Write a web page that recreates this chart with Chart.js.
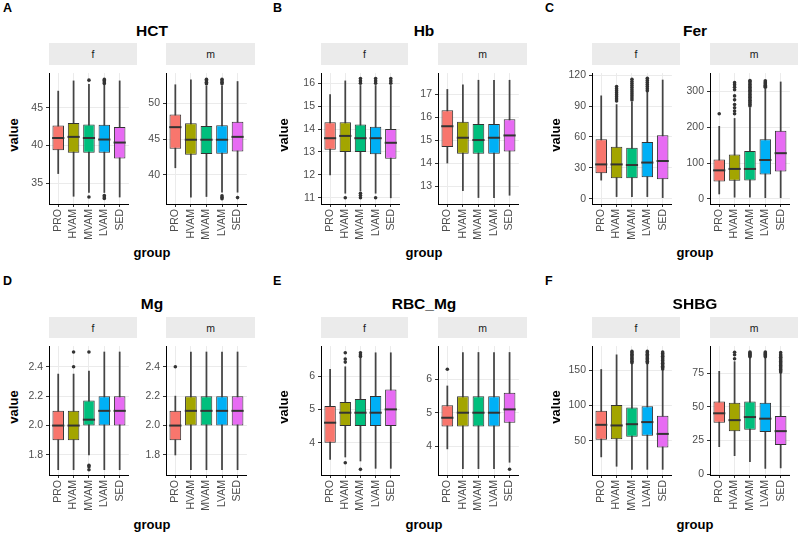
<!DOCTYPE html>
<html>
<head>
<meta charset="utf-8">
<script src="https://cdn.jsdelivr.net/npm/chart.js@4.4.1/dist/chart.umd.min.js"></script>
<style>
  body { margin: 0; background: #fff; width: 800px; height: 533px; position: relative; overflow: hidden;
         font-family: "Liberation Sans", Arial, sans-serif; }
  .t { position: absolute; white-space: nowrap; line-height: 1; transform: translate(-50%, -50%); color: #000; }
  .letter { position: absolute; font-weight: bold; font-size: 12.5px; line-height: 1; }
  .ttl { font-weight: bold; font-size: 15.5px; }
  .ax { font-weight: bold; font-size: 13px; }
  .strip { position: absolute; background: #EBEBEB; font-size: 10.5px; color: #1A1A1A;
           display: flex; align-items: center; justify-content: center; }
  canvas { position: absolute; }
</style>
</head>
<body>
<script>
"use strict"

// groups and colours
const groups = ['PRO', 'HVAM', 'MVAM', 'LVAM', 'SED'];
const fills = ['#F8766D', '#A3A500', '#00BF7D', '#00B0F6', '#E76BF3'];

// each row: [lower whisker, Q1, median, Q3, upper whisker]
const HCT_f = [[36.3, 39.4, 41.0, 42.65, 47.2], [33.3, 39.05, 41.15, 43.0, 48.55], [33.8, 39.05, 41.0, 42.8, 48.1], [33.8, 39.05, 40.8, 42.75, 48.1], [33.2, 38.3, 40.4, 42.45, 48.55]];
const HCT_f_out = [[], [], [48.65, 33.2], [48.2, 48.4, 48.6, 48.75, 33.0, 33.2, 33.4], []];
const HCT_f_range = [32.28, 49.58];
const HCT_f_ticks = ['35', '40', '45'];

const HCT_m = [[41.0, 43.65, 46.65, 48.4, 52.55], [36.9, 42.8, 44.9, 47.2, 53.25], [37.0, 42.9, 44.9, 46.8, 52.4], [37.6, 42.95, 44.9, 46.9, 52.4], [37.6, 43.25, 45.3, 47.4, 53.0]];
const HCT_m_out = [[], [], [52.7, 52.9, 53.1, 53.3], [52.7, 52.9, 53.1, 53.3, 36.7, 36.9, 37.1], [36.85]];
const HCT_m_range = [35.96, 54.17];
const HCT_m_ticks = ['40', '45', '50'];

const Hb_f = [[12.0, 13.1, 13.6, 14.3, 15.5], [11.2, 13.0, 13.7, 14.3, 16.1], [11.3, 13.0, 13.6, 14.2, 15.9], [11.2, 12.9, 13.6, 14.1, 15.9], [11.0, 12.7, 13.4, 14.0, 15.9]];
const Hb_f_out = [[], [11.0], [16.0, 16.1, 16.2, 11.0, 11.1, 11.2], [16.0, 16.1, 16.2, 11.0], [16.0, 16.1, 16.2]];
const Hb_f_range = [10.73, 16.44];
const Hb_f_ticks = ['11', '12', '13', '14', '15', '16'];

const Hb_m = [[14.0, 14.7, 15.6, 16.3, 17.2], [12.8, 14.4, 15.1, 15.8, 17.4], [12.5, 14.4, 15.0, 15.7, 17.6], [12.5, 14.4, 15.1, 15.7, 17.6], [12.6, 14.5, 15.2, 15.9, 17.6]];
const Hb_m_out = [[], [], [], [], []];
const Hb_m_range = [12.22, 17.91];
const Hb_m_ticks = ['13', '14', '15', '16', '17'];

const Fer_f = [[18, 24.7, 33.3, 57.7, 100], [2, 19.8, 33.3, 50.4, 91.5], [2, 19.8, 32.7, 49.5, 94], [2, 20.8, 35.1, 55, 104], [1, 18.9, 36.6, 61.7, 115.4]];
const Fer_f_out = [[], [95, 97, 99, 101, 103, 105, 107, 109], [96, 98, 100, 102, 104, 106, 108, 110, 112, 114, 116], [105, 107, 109, 111, 113, 115, 117], []];
const Fer_f_range = [-5.2, 122.1];
const Fer_f_ticks = ['0', '30', '60', '90', '120'];

const Fer_m = [[14, 49, 80, 110.5, 203], [5, 51, 84, 124.6, 225], [5, 52, 84, 134, 255], [3.5, 68.4, 109, 166.7, 308], [3.5, 77, 128, 190.4, 327]];
const Fer_m_out = [[238], [238, 246, 255, 264, 277, 288, 305, 312, 319, 325], [260, 264, 268, 272, 276, 280, 284, 288, 292, 296, 300, 304, 308, 312, 316, 320, 324, 328, 331], [312, 315, 318, 321, 324, 327, 330], []];
const Fer_m_range = [-14, 351.7];
const Fer_m_ticks = ['0', '100', '200', '300'];

const Mg_f = [[1.7, 1.9, 2.0, 2.1, 2.35], [1.7, 1.9, 2.0, 2.1, 2.35], [1.8, 2.0, 2.04, 2.17, 2.37], [1.7, 2.0, 2.1, 2.2, 2.5], [1.7, 2.0, 2.1, 2.2, 2.5]];
const Mg_f_out = [[], [2.4, 2.5], [2.5, 1.73, 1.72, 1.7], [], []];
const Mg_f_range = [1.664, 2.54];
const Mg_f_ticks = ['1.8', '2.0', '2.2', '2.4'];

const Mg_m = [[1.8, 1.9, 2.0, 2.1, 2.2], [1.7, 2.0, 2.1, 2.2, 2.5], [1.7, 2.0, 2.1, 2.2, 2.5], [1.7, 2.0, 2.1, 2.2, 2.5], [1.7, 2.0, 2.1, 2.2, 2.5]];
const Mg_m_out = [[2.4], [], [], [], []];
const Mg_m_range = [1.664, 2.54];
const Mg_m_ticks = ['1.8', '2.0', '2.2', '2.4'];

const RBC_f = [[3.5, 4.0, 4.6, 5.1, 6.2], [3.57, 4.5, 4.9, 5.22, 6.28], [3.45, 4.5, 4.9, 5.31, 6.54], [3.23, 4.5, 4.9, 5.4, 6.7], [3.23, 4.5, 5.0, 5.6, 6.7]];
const RBC_f_out = [[], [6.42, 6.51, 6.7, 3.4], [6.59, 6.63, 6.7, 3.2], [], []];
const RBC_f_range = [3.03, 6.9];
const RBC_f_ticks = ['4', '5', '6'];

const RBC_m = [[3.92, 4.59, 4.85, 5.22, 5.8], [3.33, 4.59, 5.0, 5.49, 6.8], [3.33, 4.59, 5.0, 5.49, 6.8], [3.33, 4.59, 5.0, 5.49, 6.8], [3.52, 4.7, 5.1, 5.6, 6.8]];
const RBC_m_out = [[6.3], [], [], [], [3.31]];
const RBC_m_range = [3.14, 6.99];
const RBC_m_ticks = ['4', '5', '6'];

const SHBG_f = [[27, 51.3, 72.6, 92.5, 151.3], [13.7, 52.2, 71.7, 100.9, 172.1], [9.3, 55.8, 73.5, 97.3, 159], [9.3, 57.1, 76.5, 99.1, 159], [9.3, 40.3, 59.7, 85.4, 151]];
const SHBG_f_out = [[], [], [161, 163, 165, 167, 169, 171, 173, 175, 177], [161, 163, 165, 167, 169, 171, 173, 175, 177], [152, 154, 156, 158, 160, 162, 164, 166, 168, 170, 172, 174, 176]];
const SHBG_f_range = [1.3, 184.5];
const SHBG_f_ticks = ['50', '100', '150'];

const SHBG_m = [[20.4, 38.3, 45.3, 54.1, 76.6], [13.7, 32.0, 40.2, 53.2, 83.8], [9.3, 33.0, 42.5, 54.1, 86.6], [4.2, 31.3, 41.3, 53.2, 86.6], [4.6, 21.6, 32.0, 43.2, 75.0]];
const SHBG_m_out = [[], [86, 89, 90.8], [87.5, 88.2, 88.9, 89.6, 90.3, 91], [87.5, 88.2, 88.9, 89.6, 90.3, 91], [76, 77, 78, 79, 80, 81, 82, 83, 84, 85, 86, 87, 88, 89, 90.5]];
const SHBG_m_range = [-0.7, 95.4];
const SHBG_m_ticks = ['0', '25', '50', '75'];


// page layout (pixels)
const cols = [
    { f: [49, 137], m: [166, 255], letterX: 3, valueX: 13 },
    { f: [321, 408], m: [438, 527], letterX: 273, valueX: 283 },
    { f: [592, 680], m: [710, 798], letterX: 545, valueX: 555 }
];
const rows = [
    { stripTop: 43, top: 65, bottom: 204, letterY: 2, titleY: 31, groupY: 252 },
    { stripTop: 317, top: 338, bottom: 475, letterY: 275, titleY: 304, groupY: 524 }
];

const panels = [
    { letter: 'A', title: 'HCT', col: 0, row: 0, f: [HCT_f, HCT_f_out, HCT_f_range, HCT_f_ticks], m: [HCT_m, HCT_m_out, HCT_m_range, HCT_m_ticks] },
    { letter: 'B', title: 'Hb', col: 1, row: 0, f: [Hb_f, Hb_f_out, Hb_f_range, Hb_f_ticks], m: [Hb_m, Hb_m_out, Hb_m_range, Hb_m_ticks] },
    { letter: 'C', title: 'Fer', col: 2, row: 0, f: [Fer_f, Fer_f_out, Fer_f_range, Fer_f_ticks], m: [Fer_m, Fer_m_out, Fer_m_range, Fer_m_ticks] },
    { letter: 'D', title: 'Mg', col: 0, row: 1, f: [Mg_f, Mg_f_out, Mg_f_range, Mg_f_ticks], m: [Mg_m, Mg_m_out, Mg_m_range, Mg_m_ticks] },
    { letter: 'E', title: 'RBC_Mg', col: 1, row: 1, f: [RBC_f, RBC_f_out, RBC_f_range, RBC_f_ticks], m: [RBC_m, RBC_m_out, RBC_m_range, RBC_m_ticks] },
    { letter: 'F', title: 'SHBG', col: 2, row: 1, f: [SHBG_f, SHBG_f_out, SHBG_f_range, SHBG_f_ticks], m: [SHBG_m, SHBG_m_out, SHBG_m_range, SHBG_m_ticks] }
];

const AXW = 45;   // room left of the plot for y ticks
const AXH = 45;   // room under the plot for x ticks
const tickFont = { family: 'Liberation Sans', size: 10.5 };


function addText(text, x, y, cls, rotate) {
    const d = document.createElement('div');
    d.className = 't ' + cls;
    d.textContent = text;
    d.style.left = x + 'px';
    d.style.top = y + 'px';
    if (rotate) d.style.transform = 'translate(-50%, -50%) rotate(-90deg)';
    document.body.appendChild(d);
}

function addStrip(text, x0, x1, y0, y1) {
    const d = document.createElement('div');
    d.className = 'strip';
    d.textContent = text;
    d.style.left = x0 + 'px';
    d.style.top = y0 + 'px';
    d.style.width = (x1 - x0) + 'px';
    d.style.height = (y1 - y0) + 'px';
    document.body.appendChild(d);
}


// ONE FACET = ONE CHART
function drawFacet(facet, x0, x1, y0, y1) {
    const [stats, outs, range, tickLabels] = facet;
    const cv = document.createElement('canvas');
    const w = (x1 - x0) + AXW, h = (y1 - y0) + AXH;
    cv.width = w;
    cv.height = h;
    cv.style.left = (x0 - AXW) + 'px';
    cv.style.top = y0 + 'px';
    cv.style.width = w + 'px';
    cv.style.height = h + 'px';
    document.body.appendChild(cv);

    const outPoints = [];
    outs.forEach((list, i) => list.forEach(v => outPoints.push({ x: i + 1, y: v })));

    new Chart(cv, {
        data: {
            datasets: [{
                // whiskers
                type: 'bar',
                data: stats.map((s, i) => ({ x: i + 1, y: [s[0], s[4]] })),
                backgroundColor: '#444444',
                barThickness: 1.1,
                grouped: false,
                order: 3
            }, {
                // boxes
                type: 'bar',
                data: stats.map((s, i) => ({ x: i + 1, y: [s[1], s[3]] })),
                backgroundColor: fills,
                borderColor: '#333333',
                borderWidth: 1,
                borderSkipped: false,
                grouped: false,
                categoryPercentage: 1,
                barPercentage: 0.75,
                order: 2
            }, {
                // medians
                type: 'line',
                showLine: false,
                data: stats.map((s, i) => ({ x: i + 1, y: s[2] })),
                pointStyle: 'line',
                pointRadius: 6.1,
                pointBorderColor: '#333333',
                pointBorderWidth: 2,
                order: 1
            }, {
                // outliers
                type: 'line',
                showLine: false,
                data: outPoints,
                pointRadius: 1.8,
                pointBackgroundColor: '#333333',
                pointBorderColor: '#333333',
                pointBorderWidth: 0,
                order: 0
            }]
        },
        options: {
            responsive: false,
            animation: false,
            layout: { padding: 0 },
            plugins: { legend: { display: false }, tooltip: { enabled: false } },
            scales: {
                x: {
                    type: 'linear',
                    min: 0.4,
                    max: 5.6,
                    offset: false,
                    bounds: 'data',
                    afterBuildTicks: (s) => { s.ticks = groups.map((g, i) => ({ value: i + 1 })); },
                    afterFit: (s) => { s.height = AXH; s.paddingLeft = 0; s.paddingRight = 0; },
                    ticks: {
                        callback: (v, i) => groups[i],
                        autoSkip: false,
                        minRotation: 90,
                        maxRotation: 90,
                        padding: 2,
                        color: '#4D4D4D',
                        font: tickFont
                    },
                    grid: { offset: false, color: '#EBEBEB', tickColor: '#333333', tickLength: 3 },
                    border: { display: true, color: '#000000', width: 1 }
                },
                y: {
                    type: 'linear',
                    min: range[0],
                    max: range[1],
                    bounds: 'data',
                    afterBuildTicks: (s) => { s.ticks = tickLabels.map(t => ({ value: parseFloat(t) })); },
                    afterFit: (s) => { s.width = AXW; s.paddingTop = 0; s.paddingBottom = 0; },
                    ticks: {
                        callback: (v, i) => tickLabels[i],
                        padding: 3,
                        color: '#4D4D4D',
                        font: tickFont
                    },
                    grid: { color: '#EBEBEB', tickColor: '#333333', tickLength: 3 },
                    border: { display: true, color: '#000000', width: 1 }
                }
            }
        }
    });
}


panels.forEach(p => {
    const c = cols[p.col], r = rows[p.row];
    const mid = (c.f[0] + c.m[1]) / 2;

    const L = document.createElement('div');
    L.className = 'letter';
    L.textContent = p.letter;
    L.style.left = c.letterX + 'px';
    L.style.top = r.letterY + 'px';
    document.body.appendChild(L);

    addText(p.title, mid, r.titleY, 'ttl');
    addText('value', c.valueX, (r.top + r.bottom) / 2, 'ax', true);
    addText('group', mid, r.groupY, 'ax');

    addStrip('f', c.f[0], c.f[1], r.stripTop, r.top);
    addStrip('m', c.m[0], c.m[1], r.stripTop, r.top);

    drawFacet(p.f, c.f[0], c.f[1], r.top, r.bottom);
    drawFacet(p.m, c.m[0], c.m[1], r.top, r.bottom);
});
</script>
</body>
</html>
